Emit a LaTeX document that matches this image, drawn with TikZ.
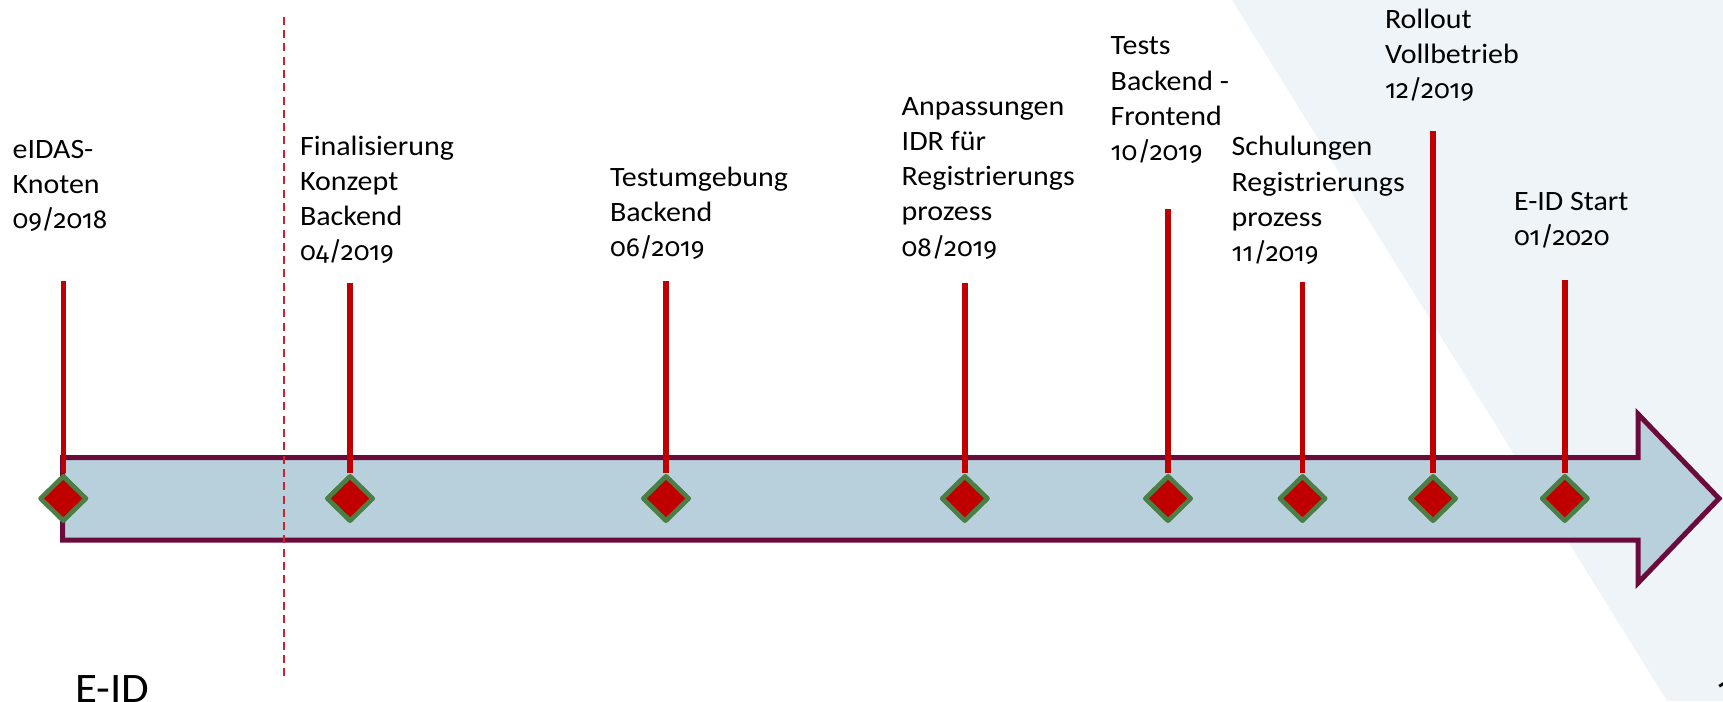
\documentclass[tikz,border=0pt]{standalone}
\usepackage{fontspec}
\setmainfont{Carlito}[FakeStretch=1.07]
\newfontfamily\datefont{Fira Sans}[Numbers=OldStyle, Scale=0.93]
\usetikzlibrary{shapes.geometric}
\definecolor{bgpoly}{HTML}{EEF4F7}
\definecolor{arrowfill}{HTML}{B8D0DC}
\definecolor{arrowline}{HTML}{6B0B3B}
\definecolor{msred}{HTML}{C00000}
\definecolor{msgreen}{HTML}{4A8046}
\definecolor{dashred}{HTML}{D0202A}
\newcommand{\mylines}[1]{\begin{tabular}[t]{@{}l@{}}#1\end{tabular}}
\newcommand{\dt}[1]{{\datefont #1}}
\begin{document}
\begin{tikzpicture}[x=1pt,y=-1pt,
  lbl/.style={anchor=base west, inner sep=0pt, outer sep=0pt, font=\fontsize{28}{35.3}\selectfont},
  big/.style={anchor=base west, inner sep=0pt, outer sep=0pt, font=\fontsize{42}{50}\selectfont},
  ms/.style={diamond, draw=msgreen, fill=msred, line width=4.5pt, inner sep=0pt, minimum width=47pt, minimum height=46pt, line join=round},
  stem/.style={draw=msred, line width=5.5pt},
  divider/.style={draw=dashred, line width=2pt, dash pattern=on 8pt off 5.3pt},
  timeline/.style={draw=arrowline, fill=arrowfill, line width=5pt, line join=miter},
]
\useasboundingbox (0,0) rectangle (1723,701);
% background band
\fill[bgpoly] (1232,0) -- (1723,0) -- (1723,701) -- (1667,701) -- cycle;
% timeline arrow
\draw[timeline] (62.5,457.5) -- (1638,457.5) -- (1638,414) -- (1719,498.5) -- (1638,583) -- (1638,540) -- (62.5,540) -- cycle;
% dashed divider
\coordinate (dvt) at (284,16.7);
\coordinate (dvb) at (284,681);
\draw[divider] (dvt) -- (dvb);
% milestone diamonds
\node[ms] (d1) at (63.3,498.5) {};
\node[ms] (d2) at (350,498.5) {};
\node[ms] (d3) at (666,498.5) {};
\node[ms] (d4) at (964.8,498.5) {};
\node[ms] (d5) at (1168,498.5) {};
\node[ms] (d6) at (1302.5,498.5) {};
\node[ms] (d7) at (1433,498.5) {};
\node[ms] (d8) at (1564.8,498.5) {};
% stem tops
\coordinate (t1) at (63.3,281);
\coordinate (t2) at (350,283);
\coordinate (t3) at (666,281);
\coordinate (t4) at (964.8,283);
\coordinate (t5) at (1168,209);
\coordinate (t6) at (1302.5,281.5);
\coordinate (t7) at (1433,130.5);
\coordinate (t8) at (1564.8,280);
\foreach \i in {1,...,8} {
  \draw[stem] (t\i) -- (d\i.north);
  \node[ms] at (d\i) {};
}
% labels
\node[lbl] (l1) at (12.7,158.3) {\mylines{eIDAS-\\Knoten\\\dt{09/2018}}};
\node[lbl] (l2) at (300,155) {\mylines{Finalisierung\\Konzept\\Backend\\\dt{04/2019}}};
\node[lbl] (l3) at (610,186) {\mylines{Testumgebung\\Backend\\\dt{06/2019}}};
\node[lbl] (l4) at (901.7,115) {\mylines{Anpassungen\\IDR für\\Registrierungs\\prozess\\\dt{08/2019}}};
\node[lbl] (l5) at (1110.7,55) {\mylines{Tests\\Backend -\\Frontend\\\dt{10/2019}}};
\node[lbl] (l6) at (1231.7,155.7) {\mylines{Schulungen\\Registrierungs\\prozess\\\dt{11/2019}}};
\node[lbl] (l7) at (1385,28.3) {\mylines{Rollout\\Vollbetrieb\\\dt{12/2019}}};
\node[lbl] (l8) at (1514,210) {\mylines{E-ID Start\\\dt{01/2020}}};
\node[big] (title) at (75,702) {E-ID};
\node[big] (pagenum) at (1717,702) {\dt{1}};
\end{tikzpicture}
\end{document}
